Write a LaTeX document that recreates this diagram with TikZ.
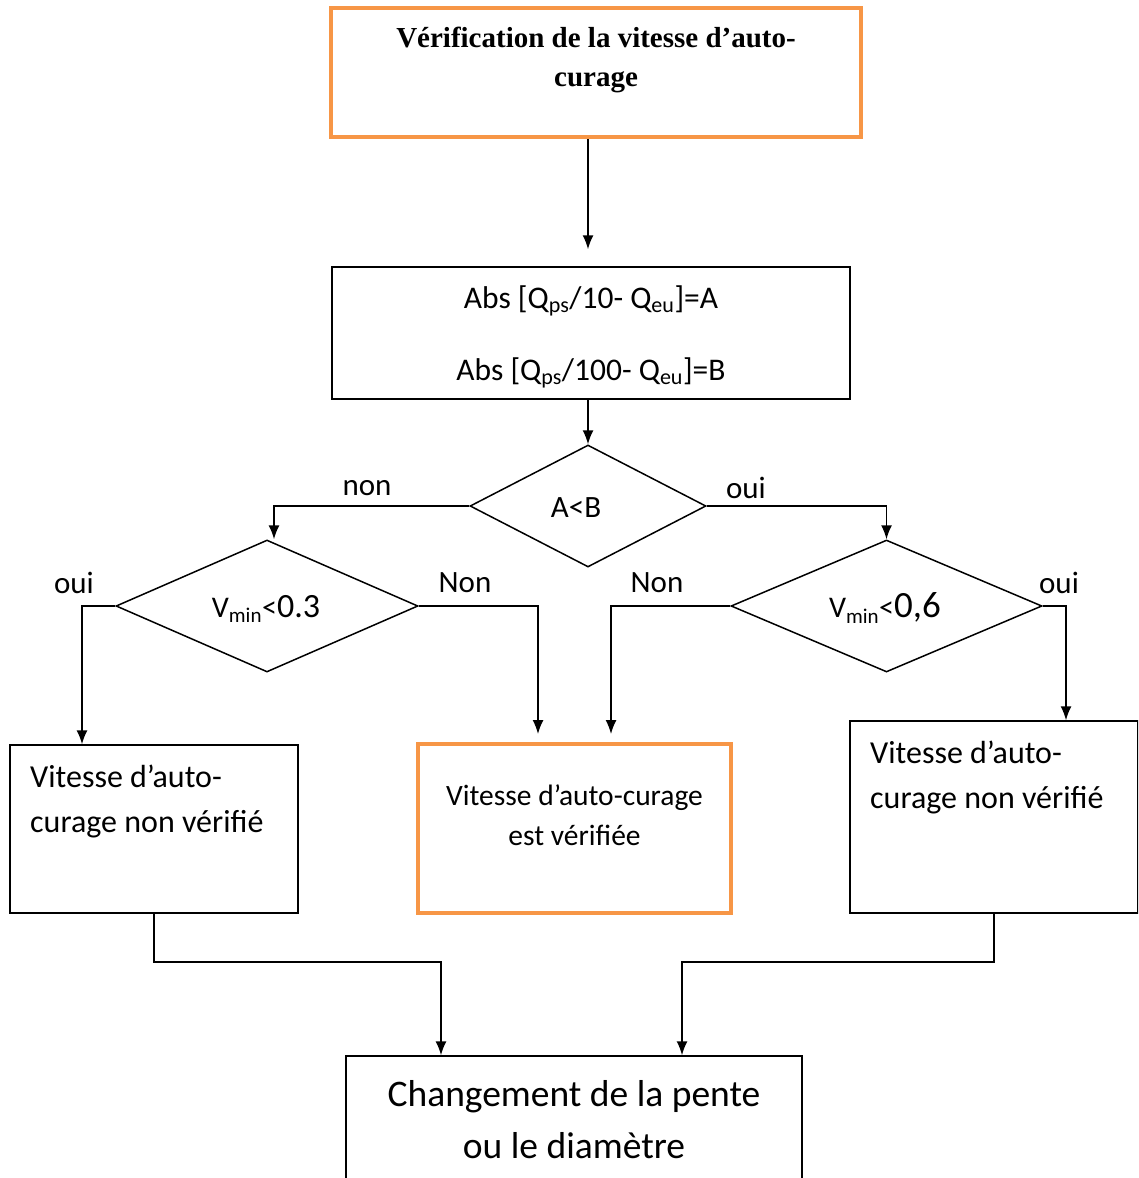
\documentclass[tikz,border=0pt]{standalone}
\usepackage{fontspec}
\setmainfont{Carlito}
\newfontfamily\titlefont{Liberation Serif}
\usetikzlibrary{arrows.meta,shapes.geometric}
\definecolor{borange}{HTML}{F79646}
\tikzset{
  box/.style={draw=black,line width=1.5pt,minimum width=#1,inner sep=0pt},
  obox/.style={draw=borange,line width=4pt,inner sep=0pt},
  dia/.style={draw=black,line width=1.5pt,diamond,inner sep=0pt},
  arr/.style={draw=black,line width=1.5pt,-{Latex[length=14pt,width=11pt]}},
  lab/.style={font=\fontsize{31}{34}\selectfont,inner sep=0pt},
  txt/.style={inner sep=0pt,align=center},
}
\begin{document}
\begin{tikzpicture}[x=1pt,y=-1pt]
\useasboundingbox (0,0) rectangle (1138,1178);
\clip (0,0) rectangle (1138,1178);
% boxes
\node[obox,minimum width=530pt,minimum height=129pt] (top) at (596,72.5) {};
\node[txt,font=\titlefont\bfseries\fontsize{29}{39}\selectfont] (toptxt) at (596,60) {Vérification de la vitesse d’auto-\\curage};
\node[box=518pt,minimum height=132pt] (calc) at (591,333) {};
\node[txt,font=\fontsize{31.5}{72}\selectfont] (calctxt) at (591,337) {Abs [Q\textsubscript{ps}/10- Q\textsubscript{eu}]=A\\Abs [Q\textsubscript{ps}/100- Q\textsubscript{eu}]=B};
\node[dia,minimum width=236pt,minimum height=122pt] (dAB) at (588,506) {};
\node[txt,font=\fontsize{31}{34}\selectfont] (dABtxt) at (576,508) {A<B};
\node[dia,minimum width=302pt,minimum height=132pt] (dL) at (267,606) {};
\node[txt] (dLtxt) at (266,609) {\fontsize{30}{34}\selectfont V\textsubscript{min}<\fontsize{34}{34}\selectfont 0.3};
\node[dia,minimum width=311pt,minimum height=132pt] (dR) at (886.5,606) {};
\node[txt] (dRtxt) at (885,608) {\fontsize{30}{34}\selectfont V\textsubscript{min}<\fontsize{37}{34}\selectfont 0,6};
\node[box=288pt,minimum height=168pt] (bL) at (154,829) {};
\node[txt,align=left,anchor=west,font=\fontsize{32}{45}\selectfont] (bLtxt) at (30,801) {Vitesse d’auto-\\curage non vérifié};
\node[obox,minimum width=313pt,minimum height=169pt] (bM) at (574.5,828.5) {};
\node[txt,font=\fontsize{29.5}{40}\selectfont] (bMtxt) at (574.5,815) {Vitesse d’auto-curage\\est vérifiée};
\node[box=288pt,minimum height=192pt] (bR) at (994,817) {};
\node[txt,align=left,anchor=west,font=\fontsize{32}{45}\selectfont] (bRtxt) at (870,777) {Vitesse d’auto-\\curage non vérifié};
\node[box=456pt,minimum height=160pt] (bB) at (574,1136) {};
\node[txt,font=\fontsize{37.5}{52}\selectfont] (bBtxt) at (574,1120) {Changement de la pente\\ou le diamètre};
% labels
\node[lab] (l1) at (367,488) {non};
\node[lab] (l2) at (746,488) {oui};
\node[lab] (l3) at (74,583) {oui};
\node[lab] (l4) at (465,583) {Non};
\node[lab] (l5) at (657,583) {Non};
\node[lab] (l6) at (1059,583) {oui};
% connectors
\draw[arr] (top.south -| 588,0) -- ([yshift=17pt]calc.north -| 588,0);
\draw[arr] (calc.south -| dAB.north) -- (dAB.north);
\draw[arr] (dAB.west) -| ([xshift=7pt]dL.north);
\draw[arr] (dAB.east) -| (dR.north);
\draw[arr] (dL.west) -| ([xshift=-72pt]bL.north);
\draw[arr] (dL.east) -| ([xshift=-36.5pt,yshift=8pt]bM.north);
\draw[arr] (dR.west) -| ([xshift=36.5pt,yshift=8pt]bM.north);
\draw[arr] (dR.east) -| ([xshift=72pt]bR.north);
\draw[arr] (bL.south) -- ++(0,48) -| ([xshift=-133pt]bB.north);
\draw[arr] (bR.south) -- ++(0,48) -| ([xshift=108pt]bB.north);
\end{tikzpicture}
\end{document}
